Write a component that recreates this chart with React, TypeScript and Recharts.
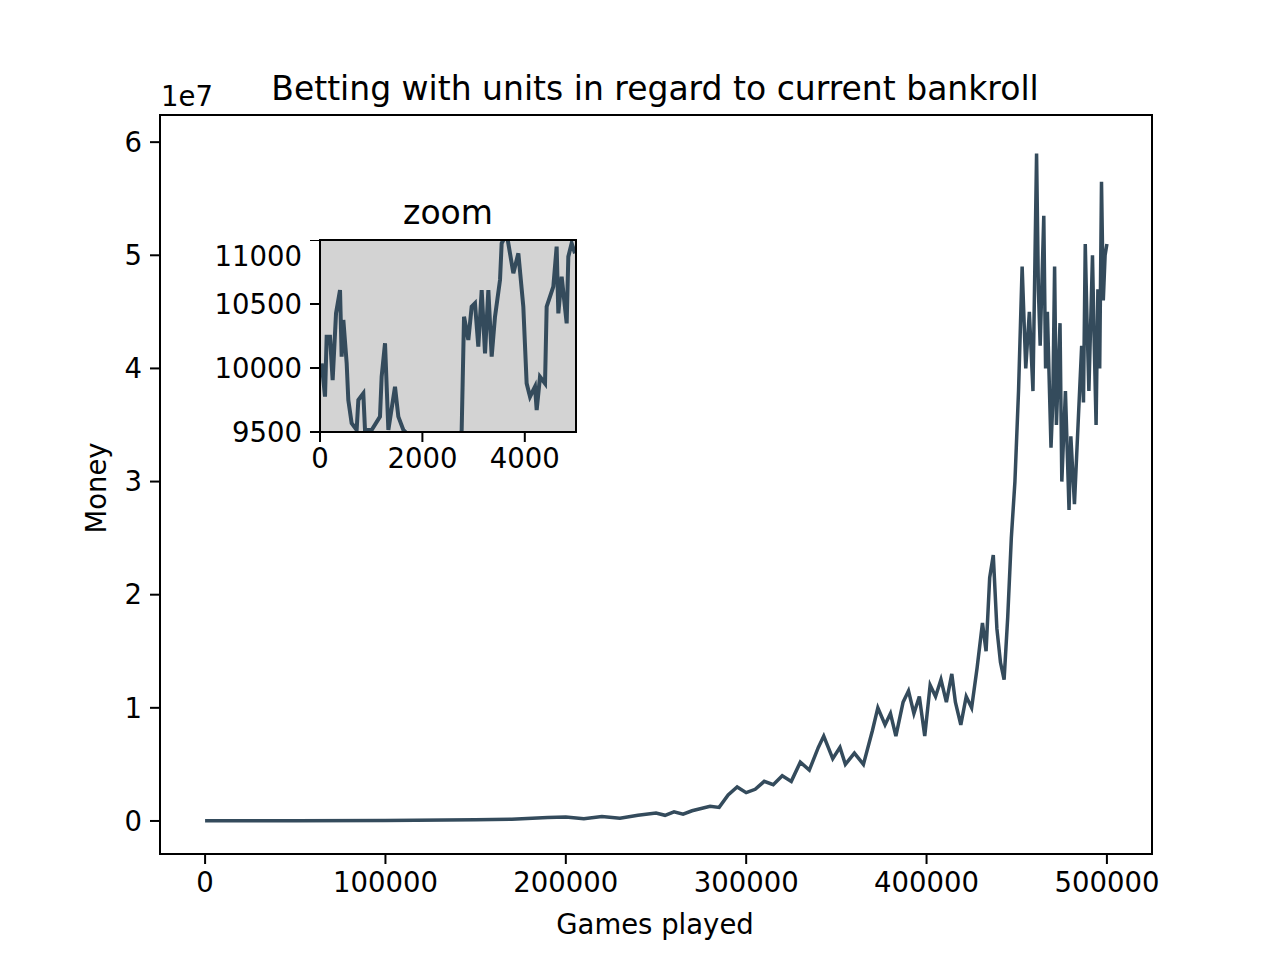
import React from "react";
import { LineChart, Line, XAxis, YAxis, CartesianGrid } from "recharts";

const mainGames = [0, 50000, 100000, 150000, 170000, 190000, 200000, 210000, 220000, 230000, 240000, 250000, 255000, 260000, 265000, 270000, 280000, 285000, 290000, 295000, 300000, 305000, 310000, 315000, 320000, 325000, 330000, 335000, 340000, 343000, 348000, 352000, 355000, 360000, 365000, 370000, 373000, 377000, 380000, 383000, 387000, 390000, 393000, 396000, 399000, 402000, 405000, 408000, 411000, 414000, 416000, 419000, 422000, 425000, 428000, 431000, 433000, 435000, 437000, 439000, 441000, 443000, 445000, 447000, 449000, 451000, 453000, 455000, 457000, 459000, 461000, 462000, 463000, 465000, 466000, 467000, 469000, 470000, 471000, 472000, 474000, 475000, 477000, 479000, 480000, 482000, 484000, 486000, 487000, 488000, 489000, 490000, 492000, 493000, 494000, 495000, 496000, 497000, 498000, 499000, 500000];
const mainMoneyM = [0.01, 0.02, 0.05, 0.1, 0.15, 0.3, 0.35, 0.2, 0.4, 0.25, 0.5, 0.7, 0.5, 0.8, 0.6, 0.9, 1.3, 1.2, 2.3, 3.0, 2.5, 2.8, 3.5, 3.2, 4.0, 3.5, 5.2, 4.5, 6.5, 7.5, 5.5, 6.5, 5.0, 6.0, 5.0, 8.0, 10.0, 8.5, 9.5, 7.5, 10.5, 11.5, 9.5, 11.0, 7.5, 12.0, 11.0, 12.5, 10.5, 13.0, 10.5, 8.5, 11.0, 10.0, 13.5, 17.5, 15.0, 21.5, 23.5, 17.0, 14.0, 12.5, 18.0, 25.0, 30.0, 38.0, 49.0, 40.0, 45.0, 38.0, 59.0, 47.0, 42.0, 53.5, 40.0, 45.0, 33.0, 37.0, 49.0, 35.0, 44.0, 30.0, 38.0, 27.5, 34.0, 28.0, 35.0, 42.0, 37.0, 51.0, 44.0, 38.0, 50.0, 42.0, 35.0, 47.0, 40.0, 56.5, 46.0, 50.0, 51.0];

const zoomGames = [33, 98, 130, 195, 247, 313, 391, 423, 456, 521, 553, 618, 716, 749, 846, 879, 1009, 1172, 1204, 1270, 1335, 1465, 1530, 1628, 1693, 2000, 2500, 2740, 2767, 2813, 2897, 2962, 3027, 3092, 3158, 3223, 3288, 3353, 3418, 3516, 3548, 3646, 3711, 3776, 3874, 3971, 4036, 4102, 4199, 4232, 4297, 4395, 4427, 4492, 4557, 4622, 4655, 4720, 4818, 4850, 4915, 4980];
const zoomMoney = [10036, 9776, 10245, 10245, 9906, 10427, 10609, 10089, 10375, 10036, 9750, 9568, 9516, 9750, 9802, 9516, 9516, 9620, 9932, 10193, 9516, 9854, 9620, 9516, 9490, 9300, 9200, 9450, 9516, 10401, 10219, 10479, 10505, 10167, 10609, 10115, 10609, 10089, 10401, 10688, 10974, 11050, 10896, 10740, 10896, 10479, 9880, 9776, 9854, 9672, 9932, 9880, 10479, 10557, 10635, 10948, 10427, 10714, 10349, 10870, 10974, 10896];

const mainXTicks = [0, 100000, 200000, 300000, 400000, 500000];
const mainYTicks = [0, 1e7, 2e7, 3e7, 4e7, 5e7, 6e7];
const zoomXTicks = [0, 2000, 4000];
const zoomYTicks = [9500, 10000, 10500, 11000];

const mainData = mainGames.map((g, i) => ({ x: g, y: mainMoneyM[i] * 1e6 }));
const zoomData = zoomGames.map((g, i) => ({ x: g, y: zoomMoney[i] }));

const COLOR = "#344b5c";
const FONT = "DejaVu Sans";
const FS = 27.5;
const tick = { fill: "#000", fontSize: FS, fontFamily: FONT };
const axisLine = { stroke: "#000", strokeWidth: 2 };
const tickLine = { stroke: "#000", strokeWidth: 2 };

const center = (x: number, y: number, size: number, extra: any = {}) => ({
  position: "absolute" as const, left: x, top: y, transform: "translate(-50%,-50%)" + (extra.rot ? " rotate(-90deg)" : ""),
  fontSize: size, lineHeight: 1, whiteSpace: "nowrap" as const, color: "#000",
});

export default function App() {
  return (
    <div style={{ position: "absolute", left: 0, top: 0, width: 1280, height: 960, background: "#fff", fontFamily: FONT }}>
      <LineChart width={1280} height={960} data={mainData} margin={{ top: 115, left: 40, right: 128, bottom: 56 }}>
        <XAxis type="number" dataKey="x" domain={[-25000, 525000]} ticks={mainXTicks} allowDataOverflow
          tick={tick} tickSize={10} tickMargin={8} axisLine={axisLine} tickLine={tickLine} height={50} />
        <YAxis type="number" dataKey="y" domain={[-2.92e6, 6.24e7]} ticks={mainYTicks} allowDataOverflow width={120}
          tick={tick} tickSize={10} tickMargin={8} axisLine={axisLine} tickLine={tickLine} tickFormatter={(v: number) => String(v / 1e7)} />
        <Line type="linear" dataKey="y" stroke={COLOR} strokeWidth={3.5} dot={false} isAnimationActive={false} />
      </LineChart>
      <div style={{ position: "absolute", left: 159, top: 114, width: 994, height: 741, border: "2px solid #000", boxSizing: "border-box", pointerEvents: "none" }} />
      <div style={center(655, 88, 33)}>Betting with units in regard to current bankroll</div>
      <div style={center(655, 925, FS)}>Games played</div>
      <div style={center(97, 488, FS, { rot: true })}>Money</div>
      <div style={{ position: "absolute", left: 161, top: 97, transform: "translateY(-50%)", fontSize: FS, lineHeight: 1 }}>1e7</div>

      <div style={{ position: "absolute", left: 190, top: 240 }}>
        <LineChart width={410} height={242} data={zoomData} margin={{ top: 0, left: 10, right: 24, bottom: 0 }}>
          <CartesianGrid fill="#d3d3d3" horizontal={false} vertical={false} />
          <XAxis type="number" dataKey="x" domain={[0, 5000]} ticks={zoomXTicks} allowDataOverflow
            tick={tick} tickSize={10} tickMargin={6} axisLine={axisLine} tickLine={tickLine} height={50} />
          <YAxis type="number" dataKey="y" domain={[9500, 11000]} ticks={zoomYTicks} allowDataOverflow width={120}
            tick={tick} tickSize={10} tickMargin={8} axisLine={axisLine} tickLine={tickLine} />
          <Line type="linear" dataKey="y" stroke={COLOR} strokeWidth={4} dot={false} isAnimationActive={false} />
        </LineChart>
        <div style={{ position: "absolute", left: 129, top: -1, width: 258, height: 194, border: "2px solid #000", boxSizing: "border-box", pointerEvents: "none" }} />
      </div>
      <div style={center(448, 212, 33)}>zoom</div>
    </div>
  );
}
